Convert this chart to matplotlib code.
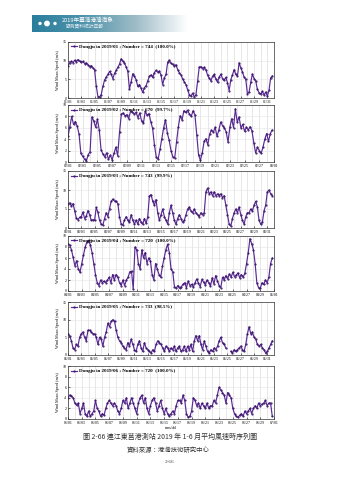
import numpy as np
import pandas as pd
import matplotlib
matplotlib.use("Agg")
import matplotlib.pyplot as plt
import matplotlib.dates as mdates
from matplotlib.patches import Circle

# 6-hourly samples (00, 06, 12, 18) of hourly mean wind speed, Dongju station
jan = [8.6, 9.4, 9.8, 9.5, 10.1, 9.7, 10.3, 9.9, 9.6, 9.8, 9.2, 9.4, 8.9, 8.4, 8.7, 8.1,
       7.6, 3.2, 0.4, 0.3, 0.9, 3.1, 4.8, 5.6, 6.3, 7.1, 6.4, 5.2, 6.6, 7.4, 8.2, 9.1,
       10.5, 9.8, 9.4, 8.3, 7.1, 2.4, 4.3, 6.5, 5.8, 4.9, 3.1, 3.6, 2.6, 1.5, 2.8, 3.3,
       4.6, 5.8, 6.2, 5.5, 6.8, 7.4, 6.9, 7.2, 6.1, 3.6, 5.4, 6.3, 9.6, 10.1, 9.3, 9.0,
       8.6, 8.9, 7.6, 6.8, 6.2, 5.1, 4.3, 3.6, 2.2, 0.9, 0.5, 1.3, 0.3, 0.8, 4.5, 8.3,
       8.4, 7.9, 8.2, 7.6, 6.1, 5.3, 4.6, 5.8, 6.3, 5.1, 4.2, 5.6, 6.4, 5.2, 4.8, 5.5,
       4.1, 2.0, 4.9, 6.2, 7.6, 6.3, 5.9, 9.4, 8.1, 7.0, 5.6, 5.0, 1.1, 1.6, 4.2, 6.4,
       5.2, 4.6, 2.3, 1.4, 1.0, 1.8, 0.8, 1.6, 0.5, 2.1, 5.4, 5.9]
feb = [4.5, 6.2, 8.0, 6.6, 7.1, 6.3, 4.9, 1.5, 1.0, 0.5, 0.2, 1.3, 1.8, 7.9, 7.2, 6.1,
       7.5, 5.6, 2.1, 1.4, 0.9, 1.6, 0.5, 1.2, 0.4, 1.5, 2.6, 1.1, 5.2, 8.4, 8.6, 8.1,
       8.3, 7.6, 8.9, 8.8, 8.4, 8.7, 7.8, 8.6, 7.2, 6.8, 8.9, 8.2, 8.5, 7.1, 5.9, 3.0,
       0.8, 0.5, 2.2, 4.1, 6.0, 7.4, 5.1, 3.8, 2.0, 0.9, 0.7, 3.5, 6.2, 8.1, 7.4, 9.0,
       8.7, 9.1, 8.4, 8.0, 9.0, 8.3, 4.8, 1.2, 0.3, 1.6, 3.6, 4.1, 3.0, 4.9, 5.6, 5.2,
       6.1, 4.5, 5.6, 7.0, 6.4, 6.0, 5.3, 3.5, 6.1, 7.6, 6.0, 9.3, 7.0, 7.9, 6.0, 6.6,
       5.4, 6.1, 5.6, 6.2, 5.5, 3.4, 1.6, 2.6, 2.0, 1.5, 2.6, 4.0, 5.0, 3.6, 5.0, 5.6]
mar = [6.2, 6.6, 5.8, 6.4, 4.6, 2.6, 2.2, 2.8, 3.0, 4.2, 2.5, 3.1, 4.6, 3.5, 2.0, 2.2,
       2.0, 5.4, 4.1, 2.0, 1.0, 0.8, 2.5, 4.0, 3.0, 5.1, 7.0, 7.6, 7.1, 7.0, 6.4, 3.0,
       1.0, 0.8, 2.1, 3.0, 2.0, 1.5, 3.5, 2.0, 1.0, 2.1, 1.0, 2.5, 1.5, 1.0, 2.5, 1.2,
       3.0, 8.4, 8.8, 7.0, 6.0, 7.5, 4.0, 2.0, 3.5, 5.0, 3.0, 2.0, 1.0, 4.0, 6.0, 4.0,
       2.0, 1.0, 2.5, 3.5, 2.5, 1.5, 2.0, 3.5, 5.0, 5.5, 4.5, 4.0, 5.0, 4.0, 3.5, 3.0,
       4.0, 3.5, 4.0, 9.5, 10.5, 9.0, 9.5, 8.5, 9.5, 8.5, 9.0, 8.5, 9.0, 8.0, 8.5, 6.0,
       3.5, 1.0, 0.5, 2.5, 4.0, 5.0, 4.0, 5.5, 3.5, 2.0, 1.0, 3.0, 4.0, 4.0, 5.0, 4.5,
       6.0, 7.0, 5.5, 2.0, 1.0, 1.5, 4.5, 6.0, 9.5, 10.0, 9.0, 8.5]
apr = [8.6, 8.3, 7.5, 6.1, 4.6, 5.5, 4.0, 3.4, 5.0, 6.5, 8.0, 8.9, 9.2, 8.4, 7.0, 5.0,
       3.0, 1.5, 1.0, 2.0, 1.5, 1.8, 1.5, 2.0, 2.5, 1.5, 3.0, 2.0, 3.0, 2.5, 1.5, 1.0,
       2.0, 1.0, 2.0, 2.5, 3.5, 3.6, 0.3, 8.0, 7.5, 5.0, 4.0, 7.5, 6.0, 7.0, 5.0, 6.0,
       5.5, 3.0, 2.0, 5.0, 4.0, 3.0, 2.5, 4.5, 6.0, 7.5, 8.5, 7.0, 4.0, 3.5, 0.8, 0.5,
       1.0, 0.5, 0.8, 1.2, 1.5, 0.6, 1.8, 1.0, 1.2, 0.7, 1.5, 2.2, 1.4, 0.8, 2.1, 1.6,
       1.1, 2.0, 1.5, 0.9, 2.4, 1.3, 2.8, 1.9, 1.0, 0.6, 2.5, 2.0, 2.8, 2.2, 3.1, 2.5,
       3.4, 2.6, 2.9, 3.3, 2.4, 3.0, 2.5, 3.2, 5.0, 7.0, 9.5, 8.6, 7.5, 5.0, 1.5, 0.6,
       0.5, 1.5, 1.2, 2.0, 1.5, 2.5, 5.0, 6.0]
may = [6.0, 5.4, 4.1, 2.0, 1.5, 3.0, 2.5, 5.0, 6.0, 6.5, 5.0, 4.0, 7.0, 7.0, 6.5, 6.0,
       6.0, 5.0, 3.0, 5.0, 4.5, 2.5, 5.0, 6.5, 9.0, 8.0, 9.5, 10.0, 9.5, 7.0, 5.0, 4.0,
       3.5, 2.5, 2.0, 1.5, 3.5, 2.5, 4.5, 3.0, 1.5, 1.0, 3.0, 4.0, 2.0, 1.0, 3.5, 2.0,
       1.5, 1.0, 0.5, 1.5, 1.0, 3.0, 4.0, 3.5, 3.0, 2.0, 1.0, 2.5, 2.0, 1.0, 2.0, 1.5,
       2.5, 1.0, 2.0, 2.5, 1.0, 1.5, 2.5, 1.0, 2.5, 1.5, 3.0, 1.0, 4.0, 5.5, 4.0, 5.5,
       3.0, 1.5, 4.0, 2.5, 1.0, 0.5, 1.5, 1.0, 2.0, 1.5, 2.5, 4.0, 5.0, 3.5, 3.0, 2.0,
       np.nan, np.nan, 1.0, 0.5, 1.5, 1.0, 1.5, 2.0, 2.5, 1.5, 1.0, 3.0, 6.0, 8.0, 6.0, 6.5,
       5.0, 4.5, 3.0, 2.5, 3.0, 2.0, 1.5, 0.5, 1.0, 2.0, 3.0, 4.0]
jun = [4.0, 4.5, 4.4, 4.0, 3.0, 2.6, 3.0, 1.0, 2.0, 3.0, 1.0, 0.5, 1.5, 0.5, 1.0, 1.5,
       3.5, 2.0, 1.5, 0.5, 1.0, 0.7, 2.0, 3.0, 3.5, 3.0, 2.5, 3.0, 2.5, 1.5, 1.0, 2.0,
       3.5, 3.0, 4.0, 2.0, 3.0, 4.0, 3.0, 2.0, 1.0, 3.0, 4.0, 4.5, 3.0, 4.0, 2.0, 1.0,
       2.5, 3.5, 4.0, 3.0, 1.5, 2.5, 3.5, 2.0, 1.0, 2.0, 1.0, 0.5, 1.0, 1.5, 1.0, 2.5,
       3.5, 3.5, 3.0, 4.5, 3.5, 1.0, 0.3, 0.5, 1.5, 4.0, 3.5, 2.5, 3.0, 2.0, 3.0, 2.5,
       2.0, 3.0, 2.0, 2.5, 2.5, 3.5, 3.0, 4.5, 6.0, 5.5, 5.0, 4.5, 3.0, 5.0, 4.5, 4.0,
       2.0, 1.0, 0.5, 0.3, 0.7, 1.0, 0.5, 1.5, 1.0, 1.5, 2.0, 1.0, 2.0, 2.5, 2.0, 3.0,
       2.5, 2.8, 3.0, 3.5, 2.5, 3.0, 3.0, 0.5]

months = ["2019-01", "2019-02", "2019-03", "2019-04", "2019-05", "2019-06"]
series = [jan, feb, mar, apr, may, jun]
counts = [744, 670, 743, 720, 733, 720]
ratios = ["100.0%", "99.7%", "99.9%", "100.0%", "98.5%", "100.0%"]
ymax = [15, 10, 15, 10, 15, 10]

# panel top/bottom in pixels on the 339x480 page
W, H = 339, 480
panels_px = [(42, 98), (105, 162), (171, 228), (236, 291), (302, 355), (366, 419)]
left_px, right_px = 68, 274

line_c = "#5a2a95"

fig = plt.figure(figsize=(W / 100, H / 100), dpi=100)

# page header banner
hax = fig.add_axes([0, 0, 1, 1])
hax.set_xlim(0, W)
hax.set_ylim(H, 0)
hax.axis("off")
grad = np.linspace(0, 1, 256)[None, :]
cmap = matplotlib.colors.LinearSegmentedColormap.from_list(
    "band", ["#2a7e9c", "#4f93ab", "#9fbcc7", "#ffffff"])
hax.imshow(grad, extent=(32, 188, 32, 15), cmap=cmap, aspect="auto")
for cx, r in [(40, 1.0), (47, 2.2), (55, 1.0)]:
    hax.add_patch(Circle((cx, 23.5), r, color="white"))
cjk = ["Noto Sans CJK TC", "DejaVu Sans"]
hax.text(62, 20.5, "2019年臺灣港灣海象", family=cjk, fontsize=4.1, color="white", va="center")
hax.text(66, 27.2, "觀測資料統計年報", family=cjk, fontsize=3.4, color="#e8f2f5", va="center")

for i, (m, vals) in enumerate(zip(months, series)):
    top, bot = panels_px[i]
    ax = fig.add_axes([left_px / W, 1 - bot / H, (right_px - left_px) / W, (bot - top) / H])
    start = pd.Timestamp(m + "-01")
    end = start + pd.offsets.MonthBegin(1)
    t = pd.date_range(start, periods=len(vals), freq="6h")
    ax.plot(t, vals, color=line_c, lw=0.85, marker=".", ms=1.1, mec="#3a1468", mfc="#3a1468",
            label=f"Dongju in {m.replace('-', '/')} ; Number = {counts[i]}  ({ratios[i]})")
    ax.set_xlim(start, end)
    ax.set_ylim(0, ymax[i])
    ax.set_yticks(np.arange(0, ymax[i] + 1, 5 if ymax[i] == 15 else 2))
    ticks = pd.date_range(start, end, freq="2D")
    ax.set_xticks(ticks)
    ax.set_xticklabels([d.strftime("%m/%d") for d in ticks])
    ax.xaxis.set_minor_locator(mdates.DayLocator())
    ax.grid(True, which="both", axis="x", color="#d4d4d4", lw=0.4)
    ax.grid(True, which="major", axis="y", color="#e4e4e4", lw=0.4)
    ax.set_axisbelow(True)
    ax.tick_params(which="both", direction="in", length=1.2, width=0.4, labelsize=2.8, pad=1.2)
    ax.tick_params(which="minor", length=0)
    for lab in ax.get_xticklabels() + ax.get_yticklabels():
        lab.set_family("Liberation Serif")
    for s in ax.spines.values():
        s.set_linewidth(0.5)
        s.set_color("#333333")
    ax.set_ylabel("Wind Mean Speed (m/s)", fontsize=3.0, family="Liberation Serif", labelpad=2)
    ax.legend(loc="upper left", frameon=False, handlelength=1.2, borderaxespad=0.15,
              handletextpad=0.4, prop={"family": "Liberation Serif", "weight": "bold", "size": 3.6})
    if i == 5:
        ax.set_xlabel("mm/dd", fontsize=3.0, family="Liberation Serif", labelpad=1)

fig.text(170 / W, 1 - 437 / H, "圖 2-66 連江東莒港測站 2019 年 1-6 月平均風速時序列圖",
         family=cjk, fontsize=5.0, ha="center", va="center", color="#333333")
fig.text(168 / W, 1 - 450 / H, "資料來源：港灣技術研究中心",
         family=cjk, fontsize=4.6, ha="center", va="center", color="#333333")
fig.text(170 / W, 1 - 462 / H, "2-66", family="Liberation Serif", fontsize=3.8,
         ha="center", va="center", color="#444444")

fig.savefig("out.png", dpi=100)
